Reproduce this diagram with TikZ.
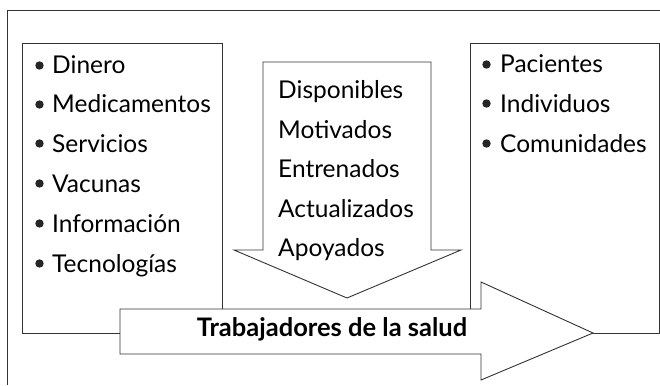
\documentclass[tikz,border=0pt]{standalone}
\usepackage{fontspec}
\setmainfont{Lato}
\usetikzlibrary{positioning}

\begin{document}
\begin{tikzpicture}[x=1pt, y=-1pt, font=\fontsize{24.5}{29}\selectfont,
  frame/.style={draw=black!80, line width=0.9pt},
  panel/.style={draw=black!80, line width=0.9pt, fill=white, line join=miter},
  item/.style={anchor=base west, inner sep=0pt},
  dot/.style={fill=black!85}]
\useasboundingbox (0,0) rectangle (660,385);
% outer frame
\draw[frame] (7,385) -- (7,10) -- (660,10);
% resources and population boxes
\draw[panel] (22,43) rectangle (222,333);
\draw[panel] (470,43) rectangle (659,333);
% down arrow
\draw[panel] (263,62) -- (431,62) -- (431,250) -- (461,250) -- (347,298)
  -- (234,250) -- (263,250) -- cycle;
% workers arrow
\draw[panel] (120,309) -- (481,309) -- (481,282) -- (593,333) -- (481,380)
  -- (481,354) -- (120,354) -- cycle;
% resources
\foreach \y/\lab [count=\i] in {74/Dinero, 113/Medicamentos, 152/Servicios,
    192/Vacunas, 232/Información, 272/Tecnologías} {
  \fill[dot] (39.5,\y-8.5) circle (4.2);
  \node[item] (res\i) at (52,\y) {\lab};
}
% qualities
\foreach \y/\lab [count=\i] in {99/Disponibles, 138/Motivados, 177/Entrenados,
    217/Actualizados, 256/Apoyados} {
  \node[item] (qual\i) at (278,\y) {\lab};
}
% population
\foreach \y/\lab [count=\i] in {73/Pacientes, 112/Individuos, 152/Comunidades} {
  \fill[dot] (486.5,\y-8.5) circle (4.2);
  \node[item] (pop\i) at (500,\y) {\lab};
}
\node[anchor=base, inner sep=0pt, font=\fontsize{25.5}{30}\selectfont\bfseries]
  (workers) at (332,336) {Trabajadores de la salud};
\end{tikzpicture}
\end{document}
